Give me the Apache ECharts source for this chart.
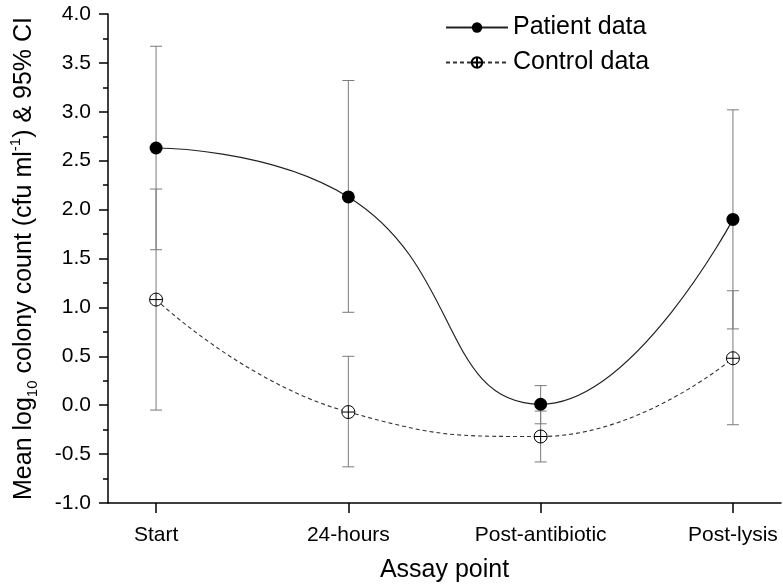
<!DOCTYPE html>
<html>
<head>
<meta charset="utf-8">
<script src="https://cdn.jsdelivr.net/npm/echarts@6/dist/echarts.min.js"></script>
<style>
html,body{margin:0;padding:0;background:#fff;}
#chart{width:783px;height:588px;}
</style>
</head>
<body>
<div id="chart"></div>
<script>
var categories = ['Start', '24-hours', 'Post-antibiotic', 'Post-lysis'];
var patientMean = [2.63, 2.13, 0.01, 1.90];
var patientLow  = [1.59, 0.95, -0.19, 0.78];
var patientHigh = [3.67, 3.32, 0.20, 3.02];
var controlMean = [1.08, -0.07, -0.32, 0.48];
var controlLow  = [-0.05, -0.63, -0.58, -0.20];
var controlHigh = [2.21, 0.50, -0.06, 1.17];
var yTicks = [-1.0, -0.5, 0.0, 0.5, 1.0, 1.5, 2.0, 2.5, 3.0, 3.5, 4.0];

var FONT = 'Liberation Sans';
var chart = echarts.init(document.getElementById('chart'), null, {renderer: 'canvas'});

function pts(arr) { return arr.map(function (v, i) { return [i, v]; }); }
function bars(lo, hi) { return lo.map(function (v, i) { return [i, v, hi[i]]; }); }

function errRender(params, api) {
  var x = api.value(0);
  var lo = api.coord([x, api.value(1)]);
  var hi = api.coord([x, api.value(2)]);
  var hw = 6;
  var st = {stroke: '#7a7a7a', lineWidth: 1};
  return {
    type: 'group',
    children: [
      {type: 'line', shape: {x1: lo[0], y1: lo[1], x2: hi[0], y2: hi[1]}, style: st},
      {type: 'line', shape: {x1: lo[0] - hw, y1: lo[1], x2: lo[0] + hw, y2: lo[1]}, style: st},
      {type: 'line', shape: {x1: hi[0] - hw, y1: hi[1], x2: hi[0] + hw, y2: hi[1]}, style: st}
    ]
  };
}

var crossCircle = 'path://M0,10A10,10 0 1,1 20,10A10,10 0 1,1 0,10ZM0,10L20,10M10,0L10,20';

var option = {
  backgroundColor: '#fff',
  animation: false,
  grid: {left: 104, right: 2, top: 14, bottom: 82},
  legend: {
    orient: 'vertical',
    left: 440,
    top: 10,
    itemWidth: 62,
    itemHeight: 13,
    itemGap: 10,
    textStyle: {fontFamily: FONT, fontSize: 25, color: '#000'},
    data: ['Patient data', 'Control data']
  },
  xAxis: {
    type: 'value',
    min: -0.25,
    max: 3.25,
    name: 'Assay point',
    nameLocation: 'middle',
    nameGap: 55,
    nameTextStyle: {fontFamily: FONT, fontSize: 25, color: '#000'},
    splitLine: {show: false},
    axisLine: {onZero: false, lineStyle: {color: '#000', width: 1.5}},
    axisTick: {show: true, length: 10, inside: false, customValues: [0, 1, 2, 3], lineStyle: {color: '#000', width: 1.5}},
    axisLabel: {
      customValues: [0, 1, 2, 3],
      margin: 22,
      fontFamily: FONT, fontSize: 21, color: '#000',
      formatter: function (v) { return categories[Math.round(v)]; }
    }
  },
  yAxis: {
    type: 'value',
    min: -1,
    max: 4,
    interval: 0.5,
    name: '{t|Mean log}{sub|10}{t| colony count (cfu ml}{sup|-1}{t|) & 95% CI}',
    nameLocation: 'middle',
    nameGap: 68,
    nameTextStyle: {
      fontFamily: FONT, fontSize: 25, color: '#000',
      rich: {
        t: {fontFamily: FONT, fontSize: 25, color: '#000', lineHeight: 32, verticalAlign: 'middle'},
        sub: {fontFamily: FONT, fontSize: 15, color: '#000', lineHeight: 32, verticalAlign: 'bottom'},
        sup: {fontFamily: FONT, fontSize: 15, color: '#000', lineHeight: 32, verticalAlign: 'top'}
      }
    },
    splitLine: {show: false},
    axisLine: {show: true, onZero: false, lineStyle: {color: '#000', width: 1.5}},
    axisTick: {show: true, length: 9, inside: false, lineStyle: {color: '#000', width: 1.5}},
    minorTick: {show: true, splitNumber: 2, length: 5, lineStyle: {color: '#000', width: 1.5}},
    axisLabel: {
      margin: 17,
      fontFamily: FONT, fontSize: 21, color: '#000',
      formatter: function (v) { return v.toFixed(1); }
    }
  },
  series: [
    {
      type: 'custom',
      name: 'pErr',
      renderItem: errRender,
      data: bars(patientLow, patientHigh),
      encode: {x: 0, y: [1, 2]},
      z: 1,
      silent: true
    },
    {
      type: 'custom',
      name: 'cErr',
      renderItem: errRender,
      data: bars(controlLow, controlHigh),
      encode: {x: 0, y: [1, 2]},
      z: 1,
      silent: true
    },
    {
      type: 'line',
      name: 'Patient data',
      data: pts(patientMean),
      smooth: 0.5,
      symbol: 'circle',
      symbolSize: 13,
      lineStyle: {color: '#222', width: 1.2},
      itemStyle: {color: '#000', borderColor: '#000', borderWidth: 0},
      z: 3
    },
    {
      type: 'line',
      name: 'Control data',
      data: pts(controlMean),
      smooth: 0.5,
      symbol: crossCircle,
      symbolSize: 13,
      lineStyle: {color: '#333', width: 1.1, type: [4, 3]},
      itemStyle: {color: '#fff', borderColor: '#000', borderWidth: 1},
      z: 3
    }
  ]
};
chart.setOption(option);
</script>
</body>
</html>
